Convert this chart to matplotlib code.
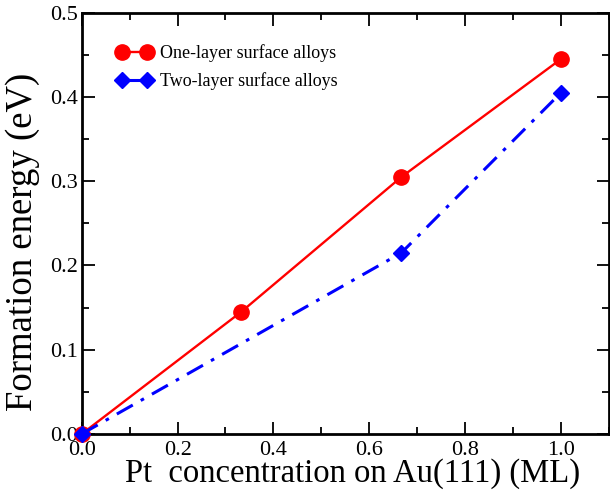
import matplotlib
matplotlib.use("Agg")
import matplotlib.pyplot as plt
from matplotlib.ticker import MultipleLocator

plt.rcParams['font.family'] = ['Liberation Serif', 'DejaVu Serif']

# data
x_one = [0.0, 0.333, 0.667, 1.0]
y_one = [0.0, 0.145, 0.305, 0.445]
x_two = [0.0, 0.667, 1.0]
y_two = [0.0, 0.215, 0.405]

fig = plt.figure(figsize=(6.1, 4.92), dpi=100)
ax = fig.add_axes([0.134, 0.118, 0.864, 0.856])

ax.plot(x_one, y_one, '-', color='red', lw=1.7, marker='o', ms=11,
        label='One-layer surface alloys', clip_on=False, zorder=3)
ax.plot(x_two, y_two, color='blue', lw=2.2, dashes=(6, 3, 1.2, 3),
        marker='D', ms=8.5, label='Two-layer surface alloys',
        clip_on=False, zorder=4)

ax.set_xlim(0, 1.1)
ax.set_ylim(0, 0.5)
ax.xaxis.set_major_locator(MultipleLocator(0.2))
ax.xaxis.set_minor_locator(MultipleLocator(0.1))
ax.yaxis.set_major_locator(MultipleLocator(0.1))
ax.yaxis.set_minor_locator(MultipleLocator(0.05))
ax.xaxis.set_major_formatter(plt.FormatStrFormatter('%.1f'))
ax.yaxis.set_major_formatter(plt.FormatStrFormatter('%.1f'))

ax.tick_params(which='both', direction='in', top=True, right=True, width=1.3)
ax.tick_params(which='major', length=9, labelsize=16)
ax.tick_params(axis='x', which='major', pad=5)
ax.tick_params(axis='y', which='major', pad=3)
ax.tick_params(which='minor', length=5)
for s in ax.spines.values():
    s.set_linewidth(2)

ax.set_xlabel('Pt  concentration on Au(111) (ML)', fontsize=23.5, labelpad=-1)
ax.set_ylabel('Formation energy (eV)', fontsize=26.5, labelpad=7)
ax.xaxis.label.set_x(0.514)
ax.yaxis.label.set_y(0.455)

ax.legend(loc='upper left', frameon=False, fontsize=13, numpoints=2,
          handlelength=2.0, handletextpad=0.4, labelspacing=0.55,
          bbox_to_anchor=(0.035, 0.963))

fig.savefig('out.png', dpi=100)
